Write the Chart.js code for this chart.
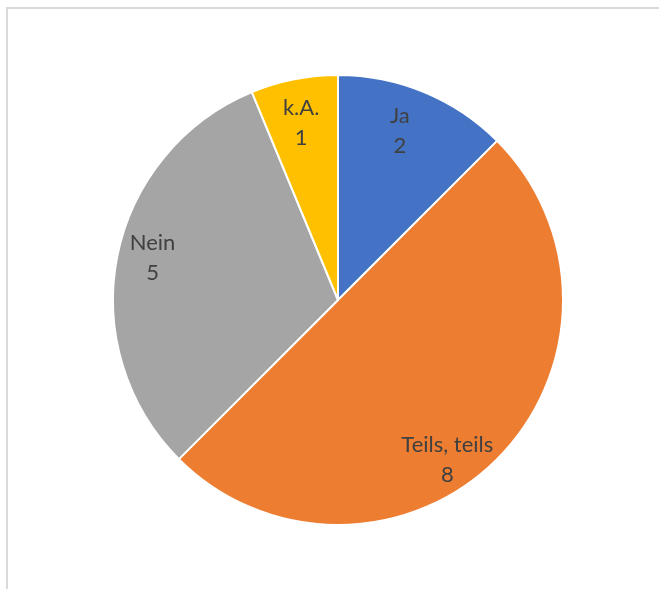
<!DOCTYPE html>
<html>
<head>
<meta charset="utf-8">
<script src="https://cdn.jsdelivr.net/npm/chart.js@4/dist/chart.umd.min.js"></script>
<style>
  html, body { margin: 0; padding: 0; background: #fff; }
  #wrap { position: relative; width: 659px; height: 589px; }
  #frame { position: absolute; left: 6px; top: 7px; right: 0; bottom: 0;
           border-left: 2px solid #d9d9d9; border-top: 2px solid #d9d9d9; }
  canvas { position: absolute; left: 0; top: 0; }
</style>
</head>
<body>
<div id="wrap">
  <div id="frame"></div>
  <canvas id="pie" width="659" height="589"></canvas>
</div>
<script>
// Answer categories and counts
const categories = ['Ja', 'Teils, teils', 'Nein', 'k.A.'];
const counts = [2, 8, 5, 1];
const sliceColors = ['#4472C4', '#ED7D31', '#A5A5A5', '#FFC000'];

// Excel-ish inside labels: "category\nvalue"
const insideLabels = {
  id: 'insideLabels',
  afterDatasetsDraw(chart, args, opts) {
    const ctx = chart.ctx;
    const meta = chart.getDatasetMeta(0);
    ctx.save();
    ctx.font = opts.font;
    ctx.fillStyle = opts.color;
    ctx.textAlign = 'center';
    ctx.textBaseline = 'middle';
    meta.data.forEach((arc, i) => {
      const p = arc.getProps(['x', 'y', 'startAngle', 'endAngle', 'outerRadius'], true);
      const mid = (p.startAngle + p.endAngle) / 2 + (opts.nudge[i] || 0) * Math.PI / 180;
      const r = p.outerRadius * (opts.radius[i] || 0.83);
      const x = p.x + Math.cos(mid) * r;
      const y = p.y + Math.sin(mid) * r;
      const lines = [categories[i], String(counts[i])];
      const lh = opts.lineHeight;
      lines.forEach((t, k) => ctx.fillText(t, x, y + (k - (lines.length - 1) / 2) * lh));
    });
    ctx.restore();
  }
};

new Chart(document.getElementById('pie'), {
  type: 'pie',
  data: {
    labels: categories,
    datasets: [{
      data: counts,
      backgroundColor: sliceColors,
      borderColor: '#ffffff',
      borderWidth: 2
    }]
  },
  options: {
    responsive: false,
    animation: false,
    layout: { padding: { left: 112, right: 95, top: 74, bottom: 63 } },
    plugins: {
      legend: { display: false },
      tooltip: { enabled: false },
      insideLabels: {
        font: '22px Lato, "Liberation Sans", sans-serif',
        color: '#404040',
        lineHeight: 30,
        nudge: [-2.4, 10.6, 1.5, -0.5],
        radius: [0.80, 0.86, 0.845, 0.805]
      }
    }
  },
  plugins: [insideLabels]
});
</script>
</body>
</html>
